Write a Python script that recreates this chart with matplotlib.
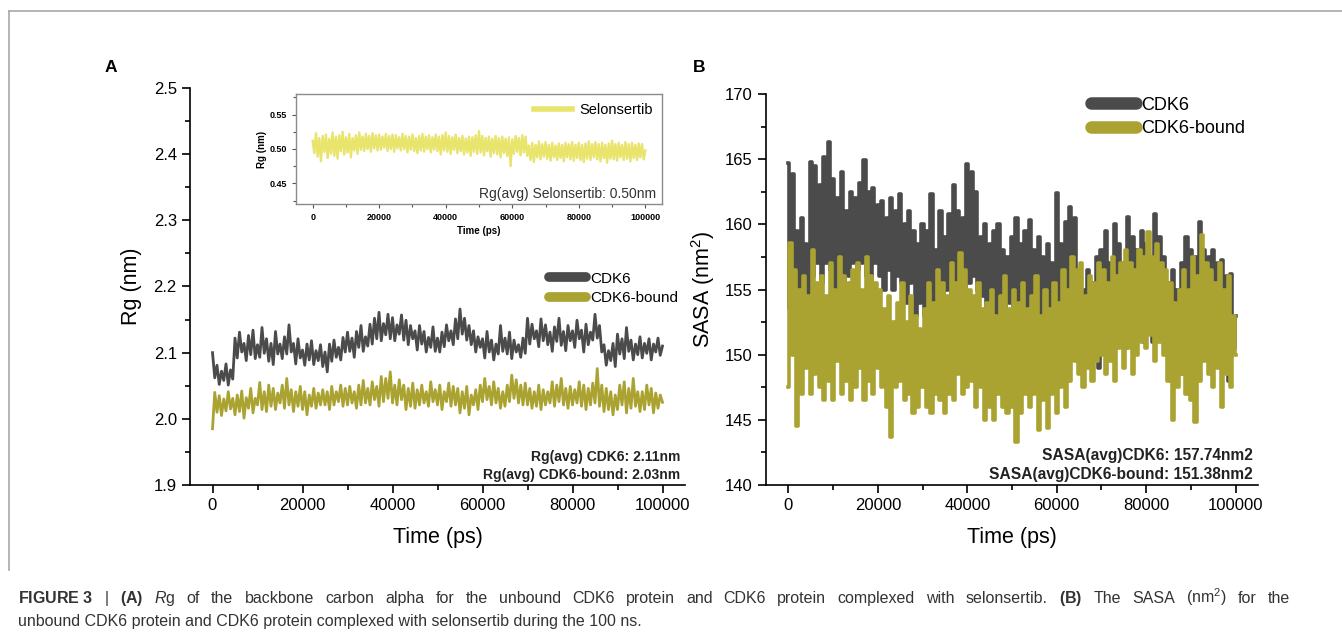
import numpy as np
import matplotlib
matplotlib.use("Agg")
import matplotlib.pyplot as plt
from matplotlib.lines import Line2D
from matplotlib.ticker import MultipleLocator

plt.rcParams['font.family'] = ['Liberation Sans', 'DejaVu Sans']
plt.rcParams['mathtext.fontset'] = 'custom'
plt.rcParams['mathtext.rm'] = 'Liberation Sans'
plt.rcParams['mathtext.it'] = 'Liberation Sans:italic'
plt.rcParams['mathtext.bf'] = 'Liberation Sans:bold'

# ---- data (500 ps sampling, 0..100000 ps) ----
rg_cdk6 = [
    2.100, 2.062, 2.081, 2.052, 2.072, 2.058, 2.083, 2.051, 2.074, 2.060,
    2.122, 2.092, 2.131, 2.101, 2.114, 2.088, 2.126, 2.097, 2.134, 2.091,
    2.112, 2.093, 2.138, 2.099, 2.121, 2.087, 2.114, 2.082, 2.132, 2.098,
    2.113, 2.091, 2.124, 2.098, 2.142, 2.101, 2.114, 2.083, 2.121, 2.092,
    2.104, 2.081, 2.113, 2.089, 2.118, 2.082, 2.103, 2.088, 2.112, 2.079,
    2.101, 2.071, 2.113, 2.087, 2.119, 2.093, 2.108, 2.089, 2.123, 2.101,
    2.131, 2.102, 2.122, 2.093, 2.132, 2.108, 2.141, 2.102, 2.124, 2.110,
    2.143, 2.113, 2.152, 2.121, 2.161, 2.118, 2.144, 2.127, 2.158, 2.121,
    2.153, 2.118, 2.142, 2.128, 2.157, 2.119, 2.149, 2.112, 2.141, 2.121,
    2.133, 2.104, 2.141, 2.113, 2.132, 2.101, 2.123, 2.108, 2.139, 2.102,
    2.122, 2.101, 2.131, 2.109, 2.142, 2.118, 2.133, 2.112, 2.151, 2.121,
    2.166, 2.128, 2.152, 2.119, 2.141, 2.112, 2.133, 2.101, 2.124, 2.108,
    2.121, 2.092, 2.132, 2.101, 2.119, 2.089, 2.113, 2.098, 2.141, 2.102,
    2.122, 2.098, 2.131, 2.091, 2.119, 2.101, 2.112, 2.093, 2.122, 2.099,
    2.152, 2.113, 2.143, 2.121, 2.133, 2.109, 2.151, 2.118, 2.142, 2.112,
    2.131, 2.102, 2.139, 2.117, 2.152, 2.111, 2.132, 2.103, 2.141, 2.118,
    2.133, 2.108, 2.149, 2.121, 2.134, 2.101, 2.143, 2.112, 2.131, 2.119,
    2.158, 2.122, 2.141, 2.101, 2.112, 2.081, 2.103, 2.088, 2.114, 2.079,
    2.128, 2.098, 2.121, 2.091, 2.138, 2.102, 2.119, 2.089, 2.113, 2.097,
    2.124, 2.092, 2.114, 2.099, 2.121, 2.089, 2.113, 2.101, 2.122, 2.096,
    2.110,
]

rg_bound = [
    1.985, 2.040, 2.010, 2.035, 2.005, 2.030, 2.012, 2.041, 2.015, 2.031,
    2.006, 2.036, 2.011, 2.042, 2.001, 2.032, 2.016, 2.046, 2.009, 2.031,
    2.021, 2.055, 2.014, 2.041, 2.011, 2.051, 2.019, 2.046, 2.014, 2.039,
    2.024, 2.051, 2.016, 2.061, 2.021, 2.044, 2.011, 2.041, 2.019, 2.049,
    2.014, 2.041, 2.006, 2.036, 2.019, 2.046, 2.016, 2.039, 2.021, 2.044,
    2.021, 2.041, 2.014, 2.049, 2.021, 2.041, 2.026, 2.051, 2.019, 2.046,
    2.021, 2.049, 2.024, 2.041, 2.016, 2.051, 2.021, 2.058, 2.024, 2.046,
    2.021, 2.056, 2.029, 2.049, 2.019, 2.064, 2.026, 2.061, 2.031, 2.071,
    2.024, 2.051, 2.021, 2.059, 2.029, 2.051, 2.014, 2.046, 2.019, 2.054,
    2.016, 2.044, 2.021, 2.051, 2.024, 2.041, 2.019, 2.056, 2.026, 2.044,
    2.021, 2.051, 2.014, 2.041, 2.026, 2.054, 2.019, 2.049, 2.021, 2.046,
    2.009, 2.041, 2.016, 2.049, 2.006, 2.036, 2.021, 2.044, 2.014, 2.051,
    2.026, 2.061, 2.029, 2.049, 2.021, 2.056, 2.024, 2.046, 2.016, 2.041,
    2.019, 2.051, 2.026, 2.066, 2.031, 2.059, 2.024, 2.051, 2.021, 2.054,
    2.021, 2.046, 2.016, 2.041, 2.019, 2.051, 2.014, 2.044, 2.021, 2.041,
    2.024, 2.056, 2.019, 2.051, 2.026, 2.061, 2.021, 2.046, 2.016, 2.049,
    2.021, 2.044, 2.024, 2.056, 2.019, 2.051, 2.014, 2.046, 2.021, 2.054,
    2.024, 2.076, 2.019, 2.051, 2.011, 2.046, 2.014, 2.041, 2.006, 2.036,
    2.014, 2.051, 2.021, 2.056, 2.009, 2.046, 2.016, 2.061, 2.019, 2.041,
    2.011, 2.041, 2.014, 2.051, 2.021, 2.046, 2.009, 2.039, 2.016, 2.036,
    2.025,
]

rg_selonsertib = [
    0.512, 0.494, 0.523, 0.489, 0.516, 0.482, 0.519, 0.496, 0.521, 0.487,
    0.515, 0.493, 0.524, 0.490, 0.518, 0.486, 0.520, 0.497, 0.525, 0.492,
    0.517, 0.495, 0.522, 0.488, 0.516, 0.498, 0.520, 0.493, 0.524, 0.499,
    0.518, 0.497, 0.522, 0.500, 0.519, 0.496, 0.523, 0.501, 0.520, 0.498,
    0.521, 0.499, 0.518, 0.502, 0.522, 0.497, 0.519, 0.500, 0.521, 0.496,
    0.520, 0.501, 0.517, 0.498, 0.522, 0.500, 0.519, 0.495, 0.518, 0.499,
    0.521, 0.497, 0.516, 0.494, 0.519, 0.498, 0.522, 0.496, 0.518, 0.500,
    0.520, 0.495, 0.517, 0.499, 0.521, 0.497, 0.518, 0.492, 0.520, 0.498,
    0.524, 0.496, 0.519, 0.493, 0.517, 0.499, 0.521, 0.494, 0.516, 0.497,
    0.519, 0.492, 0.515, 0.495, 0.518, 0.490, 0.517, 0.496, 0.520, 0.493,
    0.526, 0.495, 0.519, 0.491, 0.516, 0.497, 0.518, 0.489, 0.515, 0.494,
    0.519, 0.492, 0.516, 0.488, 0.518, 0.494, 0.515, 0.490, 0.517, 0.475,
    0.514, 0.493, 0.519, 0.496, 0.516, 0.491, 0.520, 0.495, 0.518, 0.490,
    0.505, 0.484, 0.509, 0.481, 0.506, 0.488, 0.511, 0.485, 0.507, 0.489,
    0.510, 0.486, 0.506, 0.483, 0.509, 0.488, 0.505, 0.484, 0.508, 0.487,
    0.506, 0.482, 0.509, 0.488, 0.507, 0.485, 0.510, 0.483, 0.506, 0.487,
    0.509, 0.484, 0.506, 0.481, 0.508, 0.486, 0.511, 0.484, 0.507, 0.488,
    0.510, 0.485, 0.507, 0.482, 0.509, 0.487, 0.506, 0.480, 0.508, 0.486,
    0.512, 0.485, 0.507, 0.483, 0.509, 0.488, 0.506, 0.484, 0.510, 0.486,
    0.507, 0.482, 0.509, 0.487, 0.506, 0.484, 0.508, 0.488, 0.507, 0.485,
    0.498,
]

sasa_cdk6 = [
    164.7, 153.5, 163.9, 156.0, 159.5, 151.5, 160.5, 155.0, 158.5, 154.0,
    164.8, 156.0, 164.5, 157.0, 163.0, 155.5, 165.2, 157.0, 166.3, 156.5,
    163.5, 155.0, 162.0, 157.5, 164.0, 155.0, 161.0, 156.0, 162.5, 157.0,
    162.0, 156.5, 163.2, 157.0, 164.9, 156.0, 162.5, 155.5, 162.8, 157.0,
    161.5, 156.0, 161.8, 155.0, 160.5, 156.5, 162.0, 155.0, 161.0, 156.0,
    162.3, 155.5, 160.0, 154.0, 161.0, 155.5, 159.5, 153.0, 158.5, 154.0,
    160.0, 153.0, 159.5, 155.0, 162.3, 154.0, 158.0, 155.5, 161.0, 153.5,
    159.0, 155.0, 160.8, 154.5, 163.0, 155.0, 161.0, 156.0, 160.5, 154.5,
    164.6, 155.5, 164.0, 156.0, 162.5, 155.0, 159.0, 154.5, 160.0, 153.5,
    158.5, 154.0, 159.5, 153.0, 160.0, 154.5, 158.0, 152.5, 157.5, 154.0,
    159.0, 153.5, 160.5, 154.0, 158.5, 152.0, 159.5, 153.5, 160.3, 154.0,
    158.0, 152.5, 159.0, 151.5, 157.5, 152.0, 158.5, 153.0, 157.0, 152.0,
    162.4, 154.0, 158.5, 153.0, 160.2, 154.5, 161.3, 153.5, 160.5, 155.0,
    156.0, 151.0, 155.0, 150.0, 156.5, 149.5, 155.5, 150.5, 157.5, 149.0,
    158.0, 151.5, 159.5, 152.0, 157.0, 150.0, 160.0, 152.5, 158.5, 151.0,
    157.0, 150.5, 160.6, 153.0, 159.0, 151.5, 158.0, 152.0, 159.5, 151.0,
    158.5, 152.5, 157.5, 151.0, 160.8, 153.0, 159.0, 152.0, 157.5, 150.5,
    155.5, 149.0, 156.5, 150.0, 155.0, 148.5, 157.0, 150.5, 159.0, 151.5,
    158.0, 150.0, 157.5, 151.5, 160.2, 152.0, 158.0, 150.5, 157.5, 151.0,
    158.0, 150.5, 157.0, 149.5, 157.3, 151.0, 156.0, 148.0, 156.2, 150.5,
    153.0,
]

sasa_bound = [
    147.5, 158.6, 150.0, 156.5, 144.5, 155.0, 147.0, 156.0, 149.0, 154.5,
    147.0, 158.0, 148.5, 155.5, 147.5, 156.0, 146.5, 154.5, 148.0, 157.0,
    146.5, 155.0, 149.5, 157.5, 147.0, 156.0, 148.0, 155.5, 146.5, 156.5,
    147.5, 157.0, 149.0, 155.0, 146.5, 157.5, 148.0, 156.0, 147.0, 155.5,
    149.0, 155.0, 147.5, 153.5, 146.0, 154.5, 143.7, 152.5, 147.5, 154.0,
    148.0, 155.5, 146.5, 152.5, 147.0, 154.5, 145.5, 153.0, 146.0, 152.0,
    147.5, 153.5, 146.0, 155.5, 145.5, 154.0, 147.0, 156.5, 146.5, 155.5,
    145.5, 154.5, 147.0, 157.0, 146.5, 155.5, 148.5, 157.8, 147.0, 156.5,
    147.5, 155.0, 148.0, 154.5, 146.0, 155.5, 147.5, 153.5, 145.0, 154.0,
    146.0, 155.0, 145.0, 153.0, 147.0, 154.5, 146.0, 156.0, 145.5, 153.5,
    146.0, 155.0, 143.3, 154.0, 145.5, 155.5, 147.0, 153.5, 146.0, 154.5,
    147.0, 156.0, 144.2, 153.0, 146.5, 155.0, 144.4, 153.5, 147.0, 155.5,
    145.5, 154.0, 147.5, 156.5, 146.0, 155.0, 148.0, 157.5, 149.5, 156.5,
    148.5, 157.0, 147.5, 154.5, 149.0, 156.0, 148.0, 155.5, 149.5, 157.0,
    150.0, 156.5, 148.5, 155.5, 149.5, 157.5, 148.0, 156.0, 150.5, 157.0,
    149.0, 158.0, 150.5, 157.0, 148.5, 156.5, 150.0, 158.0, 151.0, 157.5,
    150.5, 159.4, 151.5, 157.5, 149.5, 158.5, 151.0, 157.0, 150.0, 156.5,
    148.0, 155.5, 145.0, 154.0, 147.5, 155.0, 148.5, 156.5, 147.0, 155.0,
    146.5, 157.5, 144.8, 156.0, 148.0, 159.2, 149.5, 157.0, 148.5, 156.5,
    147.5, 155.5, 149.0, 157.0, 146.0, 155.0, 148.5, 156.0, 147.5, 153.0,
    150.0,
]

time_ps = np.linspace(0, 100000, len(rg_cdk6))
xticks = [0, 20000, 40000, 60000, 80000, 100000]

caption_words = [
    r'$\bf{FIGURE\ 3}$', '|', r'$\bf{(A)}$', r'$\it{R}$g', 'of', 'the', 'backbone', 'carbon',
    'alpha', 'for', 'the', 'unbound', 'CDK6', 'protein', 'and', 'CDK6', 'protein', 'complexed',
    'with', 'selonsertib.', r'$\bf{(B)}$', 'The', 'SASA', r'(nm$^{2}$)', 'for', 'the',
]
caption_line2 = 'unbound CDK6 protein and CDK6 protein complexed with selonsertib during the 100 ns.'

dark = '#4b4b4b'
olive = '#aaa332'
yellow = '#e8e46c'

W, H = 1342, 641
fig = plt.figure(figsize=(W / 100, H / 100), dpi=100)


def px_axes(x0, y0, x1, y1):
    # pixel box (left, top, right, bottom) -> figure fraction
    return fig.add_axes([x0 / W, 1 - y1 / H, (x1 - x0) / W, (y1 - y0) / H])


def style_axes(ax, size, width=1.2, major=6, minor=3.5):
    for s in ['top', 'right']:
        ax.spines[s].set_visible(False)
    for s in ['left', 'bottom']:
        ax.spines[s].set_linewidth(width)
    ax.tick_params(which='major', direction='out', length=major, width=width, labelsize=size)
    ax.tick_params(which='minor', direction='out', length=minor, width=width)


# ---------------- panel A ----------------
axA = px_axes(190, 88, 685, 485)
axA.plot(time_ps, rg_cdk6, color=dark, lw=2.0, label='CDK6')
axA.plot(time_ps, rg_bound, color=olive, lw=2.0, label='CDK6-bound')
axA.set_xlim(-5000, 105000)
axA.set_ylim(1.9, 2.5)
axA.set_xticks(xticks)
axA.xaxis.set_minor_locator(MultipleLocator(10000))
axA.yaxis.set_major_locator(MultipleLocator(0.1))
axA.yaxis.set_minor_locator(MultipleLocator(0.05))
style_axes(axA, 12)
axA.set_xlabel('Time (ps)', fontsize=15.5, labelpad=10)
axA.set_ylabel('Rg (nm)', fontsize=15.5, labelpad=8)
hA = [Line2D([], [], color=dark, lw=7, solid_capstyle='round'),
      Line2D([], [], color=olive, lw=7, solid_capstyle='round')]
axA.legend(hA, ['CDK6', 'CDK6-bound'], loc='center left', bbox_to_anchor=(0.725, 0.495),
           frameon=False, fontsize=11, handlelength=2.4, handletextpad=0.3,
           labelspacing=0.35, borderpad=0, borderaxespad=0)
axA.text(0.99, 0.07, 'Rg(avg) CDK6: 2.11nm', transform=axA.transAxes, ha='right',
         va='center', fontsize=10, fontweight='bold', color='#222222')
axA.text(0.99, 0.025, 'Rg(avg) CDK6-bound: 2.03nm', transform=axA.transAxes, ha='right',
         va='center', fontsize=10, fontweight='bold', color='#222222')

# inset
axI = px_axes(296, 94, 662, 204)
axI.plot(time_ps, rg_selonsertib, color=yellow, lw=1.7)
axI.set_xlim(-5000, 105000)
axI.set_ylim(0.42, 0.58)
axI.set_xticks(xticks)
axI.set_yticks([0.45, 0.50, 0.55])
axI.xaxis.set_minor_locator(MultipleLocator(10000))
axI.yaxis.set_minor_locator(MultipleLocator(0.025))
for s in axI.spines.values():
    s.set_color('#8a8a8a')
    s.set_linewidth(1.0)
axI.tick_params(which='major', direction='out', length=3, width=0.8, labelsize=6.5,
                color='#555555')
axI.tick_params(which='minor', direction='out', length=2, width=0.8, color='#555555')
for lab in axI.get_xticklabels() + axI.get_yticklabels():
    lab.set_fontweight('bold')
axI.set_xlabel('Time (ps)', fontsize=7, fontweight='bold', labelpad=3)
axI.set_ylabel('Rg (nm)', fontsize=7, fontweight='bold', labelpad=2)
axI.legend([Line2D([], [], color=yellow, lw=4)], ['Selonsertib'], loc='center left',
           bbox_to_anchor=(0.65, 0.855), frameon=False, fontsize=10.5,
           handlelength=2.6, handletextpad=0.5, borderpad=0, borderaxespad=0)
axI.text(0.985, 0.09, 'Rg(avg) Selonsertib: 0.50nm', transform=axI.transAxes,
         ha='right', va='center', fontsize=10, color='#333333')

# ---------------- panel B ----------------
axB = px_axes(766, 94, 1258, 485)
axB.plot(time_ps, sasa_cdk6, color=dark, lw=2.6, drawstyle='steps-mid', label='CDK6')
axB.plot(time_ps, sasa_bound, color=olive, lw=2.6, drawstyle='steps-mid', label='CDK6-bound')
axB.set_xlim(-5000, 105000)
axB.set_ylim(140, 170)
axB.set_xticks(xticks)
axB.xaxis.set_minor_locator(MultipleLocator(10000))
axB.yaxis.set_major_locator(MultipleLocator(5))
axB.yaxis.set_minor_locator(MultipleLocator(2.5))
style_axes(axB, 12)
axB.set_xlabel('Time (ps)', fontsize=15.5, labelpad=10)
axB.set_ylabel('SASA (nm$^2$)', fontsize=15.5, labelpad=6)
hB = [Line2D([], [], color=dark, lw=9, solid_capstyle='round'),
      Line2D([], [], color=olive, lw=9, solid_capstyle='round')]
axB.legend(hB, ['CDK6', 'CDK6-bound'], loc='center left', bbox_to_anchor=(0.66, 0.942),
           frameon=False, fontsize=13, handlelength=2.5, handletextpad=0.3,
           labelspacing=0.35, borderpad=0, borderaxespad=0)
axB.text(0.99, 0.075, 'SASA(avg)CDK6: 157.74nm2', transform=axB.transAxes, ha='right',
         va='center', fontsize=11.2, fontweight='bold', color='#222222')
axB.text(0.99, 0.027, 'SASA(avg)CDK6-bound: 151.38nm2', transform=axB.transAxes,
         ha='right', va='center', fontsize=11.2, fontweight='bold', color='#222222')

# panel letters
fig.text(111 / W, 1 - 67 / H, 'A', fontsize=12.5, fontweight='bold', ha='center', va='center')
fig.text(699 / W, 1 - 67 / H, 'B', fontsize=12.5, fontweight='bold', ha='center', va='center')

# frame lines of the figure box
fig.add_artist(Line2D([9 / W, 1], [1 - 11 / H, 1 - 11 / H], color='#a8a8a8', lw=1.2))
fig.add_artist(Line2D([9 / W, 9 / W], [1 - 11 / H, 1 - 570 / H], color='#a8a8a8', lw=1.2))

# caption: first line justified to the full width, second line left aligned
cap_kw = dict(fontsize=11.5, va='baseline', color='#333333')
renderer = fig.canvas.get_renderer()
pieces = [fig.text(0, 1 - 603 / H, w, **cap_kw) for w in caption_words]
widths = [p.get_window_extent(renderer).width for p in pieces]
left_px, right_px = 18, 1290
gap = (right_px - left_px - sum(widths)) / (len(pieces) - 1)
x = left_px
for p, w in zip(pieces, widths):
    p.set_x(x / W)
    x += w + gap
fig.text(left_px / W, 1 - 626 / H, caption_line2, **cap_kw)

fig.savefig('out.png', dpi=100)
